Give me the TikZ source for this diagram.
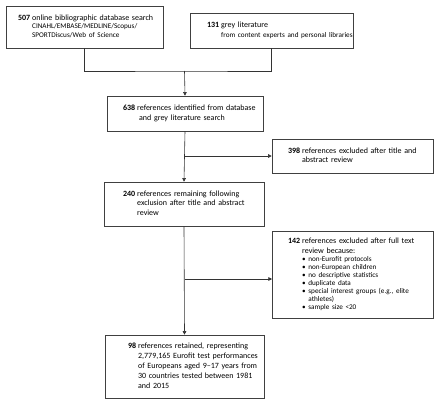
\documentclass[tikz,border=0pt]{standalone}
\usepackage{fontspec}
\setmainfont{Carlito}
\usetikzlibrary{shadows,arrows.meta}
\newcommand{\mainsz}{\fontsize{8}{9.8}\selectfont}
\newcommand{\subsz}{\fontsize{7.2}{8.3}\selectfont}
\newcommand{\bulsz}{\fontsize{7.2}{8}\selectfont}
\begin{document}
\begin{tikzpicture}[x=1pt,y=-1pt,
  box/.style={draw=black!75, line width=0.6pt, fill=white, rectangle, inner sep=0pt,
    drop shadow={shadow xshift=1.3pt,shadow yshift=-1.3pt,fill=black!40},
    align=left, font=\mainsz},
  conn/.style={draw=black!80, line width=0.6pt},
  arr/.style={conn, -{Triangle[length=3.6pt,width=3.6pt]}}]
\useasboundingbox (0,0) rectangle (440,407);
\fill[white] (0,0) rectangle (440,407);

\node[box, minimum width=157pt, minimum height=42pt, text width=157pt] (b1) at (84.5,27)
 {\hspace*{12pt}\begin{tabular}{@{}l@{\hspace{2pt}}l@{}}\textbf{507} & online bibliographic database search\\[-1.5pt]
  & {\subsz CINAHL/EMBASE/MEDLINE/Scopus/}\\[-1.5pt]
  & {\subsz SPORTDiscus/Web of Science}\end{tabular}};

\node[box, minimum width=163pt, minimum height=35pt, text width=163pt] (b2) at (271.5,30.5)
 {\hspace*{17pt}\begin{tabular}{@{}l@{\hspace{2pt}}l@{}}\textbf{131} & grey literature\\
  & {\subsz from content experts and personal libraries}\end{tabular}};

\node[box, minimum width=156pt, minimum height=35pt, text width=156pt] (b3) at (185,113.5)
 {\hspace*{16pt}\begin{tabular}{@{}l@{\hspace{2pt}}l@{}}\textbf{638} & references identified from database\\
  & \hspace{2pt}and grey literature search\end{tabular}};

\node[box, minimum width=161pt, minimum height=34pt, text width=161pt] (b4) at (352.5,156)
 {\hspace*{16pt}\begin{tabular}{@{}l@{\hspace{2pt}}l@{}}\textbf{398} & references excluded after title and\\
  & abstract review\end{tabular}};

\node[box, minimum width=160pt, minimum height=44pt, text width=160pt] (b5) at (184,204)
 {\hspace*{19pt}\begin{tabular}{@{}l@{\hspace{2pt}}l@{}}\textbf{240} & references remaining following\\
  & exclusion after title and abstract\\
  & review\end{tabular}};

\node[box, minimum width=161pt, minimum height=87pt, text width=161pt] (b6) at (352.5,274.5)
 {\hspace*{16pt}\begin{tabular}{@{}l@{\hspace{2pt}}l@{}}\textbf{142} & references excluded after full text\\
  & review because:\\[-1.5pt]
  & {\bulsz • non-Eurofit protocols}\\[-1.8pt]
  & {\bulsz • non-European children}\\[-1.8pt]
  & {\bulsz • no descriptive statistics}\\[-1.8pt]
  & {\bulsz • duplicate data}\\[-1.8pt]
  & {\bulsz • special interest groups (e.g., elite}\\[-1.8pt]
  & {\bulsz \phantom{• }athletes)}\\[-1.8pt]
  & {\bulsz • sample size <20}\end{tabular}};

\node[box, minimum width=159pt, minimum height=63pt, text width=159pt] (b7) at (184.5,366.5)
 {\hspace*{23pt}\begin{tabular}{@{}l@{\hspace{2pt}}l@{}}\textbf{98} & references retained, representing\\
  & 2,779,165 Eurofit test performances\\
  & of Europeans aged 9–17 years from\\
  & 30 countries tested between 1981\\
  & and 2015\end{tabular}};

\coordinate (j1) at (184.5,71);
\coordinate (j3) at (184.5,279);
\coordinate (e6) at (272,279);
\draw[conn] (b1.south) |- (j1) -| (b2.south);
\draw[arr] (j1) -- (b3.north);
\draw[arr] (b3.south) -- (b5.north);
\draw[arr] (b3.south |- b4.west) -- (b4.west);
\draw[arr] (b5.south) -- (b7.north);
\draw[arr] (j3) -- (e6);
\end{tikzpicture}
\end{document}
